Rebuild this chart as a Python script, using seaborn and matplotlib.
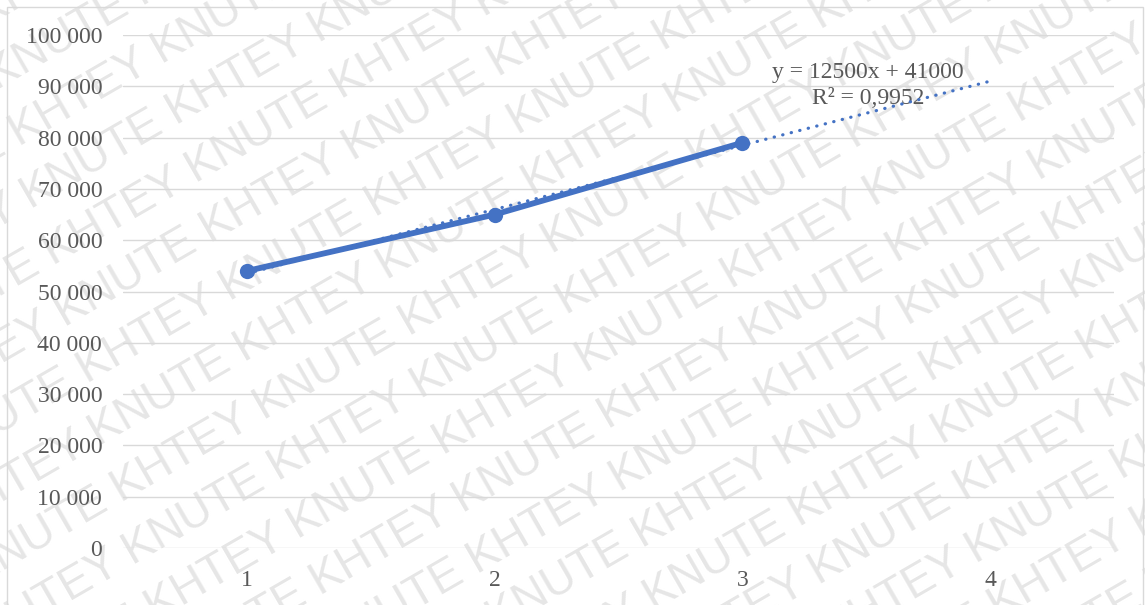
import numpy as np
import matplotlib
matplotlib.use("Agg")
import matplotlib.pyplot as plt
import seaborn as sns
from matplotlib.ticker import FuncFormatter, FixedLocator
from matplotlib.patches import Rectangle
from matplotlib.transforms import IdentityTransform

# Observed values per period
periods = [1, 2, 3]
values = [54000, 65000, 79000]

# Category axis (one period of forecast beyond the data) and value axis ticks
x_ticks = [1, 2, 3, 4]
y_ticks = list(range(0, 100001, 10000))

watermark_words = ["KHTEY", "KNUTE"]

BLUE = "#4472C4"
GRID = "#d9d9d9"
TEXT = "#595959"
MARK = "#e6e6e6"

sns.set_theme(style="white")
plt.rcParams["font.family"] = ["Liberation Serif", "DejaVu Serif"]

W, H = 1145, 605
fig = plt.figure(figsize=(W / 100, H / 100), dpi=100)
fig.patch.set_facecolor("white")

# Diagonal repeated watermark behind the chart
ang = np.deg2rad(30)
u = np.array([np.cos(ang), np.sin(ang)])
nrm = np.array([-np.sin(ang), np.cos(ang)])
row_text = (" ".join(watermark_words) + " ") * 6
period = 342.0
origin = np.array([560.0, 300.0])
for j in range(-11, 12):
    shift = (j * 156.0) % period
    c = origin - j * 60.0 * nrm + shift * u
    fig.text(c[0], c[1], row_text, transform=IdentityTransform(),
             rotation=30, rotation_mode="anchor", ha="center", va="center",
             fontsize=33, color=MARK, family=["Liberation Sans", "DejaVu Sans"],
             zorder=-5)

# Chart area frame
fig.patches.append(Rectangle((7 / W, -0.1), (1143 - 7) / W, 1.1 - 7 / H,
                             transform=fig.transFigure, fill=False,
                             edgecolor=GRID, linewidth=1.0, zorder=-4))

ax = fig.add_axes([123 / W, 1 - 548 / H, (1114 - 123) / W, (548 - 35) / H])
ax.set_facecolor("none")

# Linear trend fitted to the observations, extended one period forward
slope, intercept = np.polyfit(periods, values, 1)
fitted = slope * np.array(periods) + intercept
ss_res = np.sum((np.array(values) - fitted) ** 2)
ss_tot = np.sum((np.array(values) - np.mean(values)) ** 2)
r2 = 1 - ss_res / ss_tot

sns.lineplot(x=periods, y=values, ax=ax, color=BLUE, linewidth=4.2,
             marker="o", markersize=11, markeredgewidth=0, zorder=3)

tx = np.array([periods[0], x_ticks[-1]], dtype=float)
ax.plot(tx, slope * tx + intercept, color=BLUE, linewidth=2.3,
        linestyle=(0, (0.1, 2.65)), dash_capstyle="round", zorder=4)

ax.text(0.7518, 0.916, f"y = {slope:.0f}x + {intercept:.0f}",
        transform=ax.transAxes, ha="center", va="baseline",
        fontsize=17, color=TEXT)
ax.text(0.7518, 0.8655, "R² = " + f"{r2:.4f}".replace(".", ","),
        transform=ax.transAxes, ha="center", va="baseline",
        fontsize=17, color=TEXT)

ax.set_xlim(0.5, 4.5)
ax.set_ylim(0, 100000)
ax.xaxis.set_major_locator(FixedLocator(x_ticks))
ax.yaxis.set_major_locator(FixedLocator(y_ticks))
ax.yaxis.set_major_formatter(FuncFormatter(lambda v, p: f"{int(v):,}".replace(",", " ")))
ax.xaxis.set_major_formatter(FuncFormatter(lambda v, p: f"{int(v)}"))

ax.grid(axis="y", color=GRID, linewidth=1.0)
ax.grid(axis="x", visible=False)
ax.set_axisbelow(True)
for s in ax.spines.values():
    s.set_visible(False)
ax.tick_params(axis="both", length=0, labelsize=17, labelcolor=TEXT)
ax.tick_params(axis="y", pad=15)
ax.tick_params(axis="x", pad=16)
ax.set_xlabel("")
ax.set_ylabel("")

fig.savefig("out.png", dpi=100)
